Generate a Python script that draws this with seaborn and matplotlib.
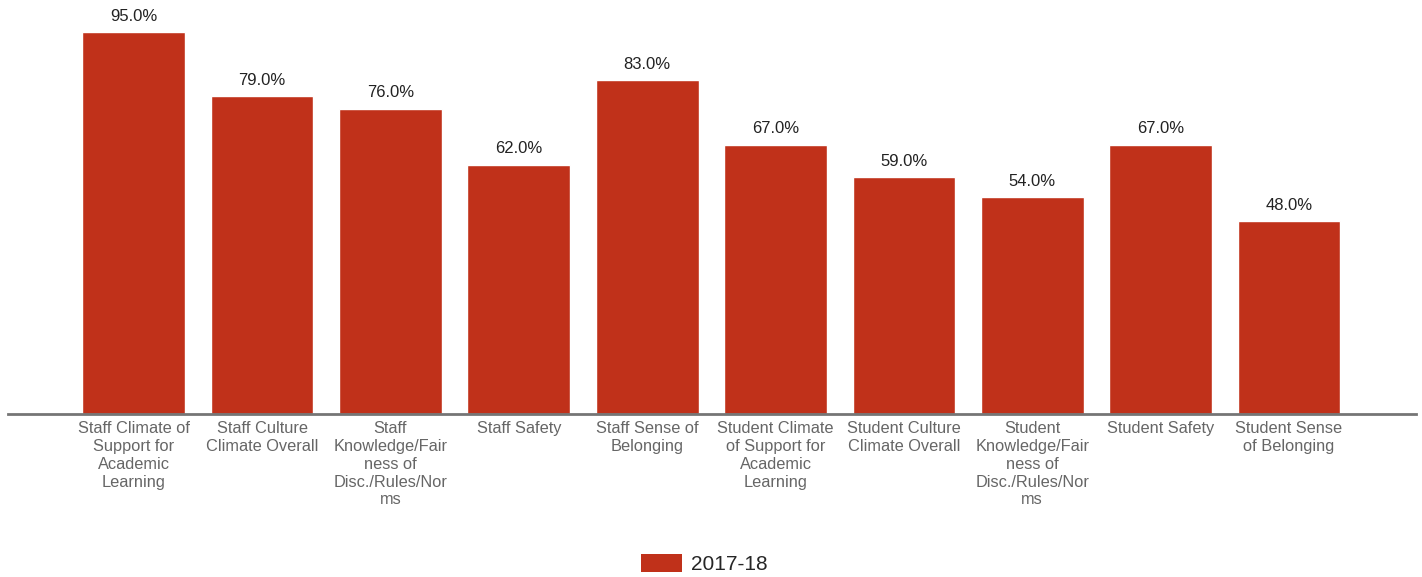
import pandas as pd
import numpy as np
import matplotlib
matplotlib.use("Agg")
import matplotlib.pyplot as plt
import seaborn as sns
from matplotlib.patches import Patch

categories = [
    "Staff Climate of\nSupport for\nAcademic\nLearning",
    "Staff Culture\nClimate Overall",
    "Staff\nKnowledge/Fair\nness of\nDisc./Rules/Nor\nms",
    "Staff Safety",
    "Staff Sense of\nBelonging",
    "Student Climate\nof Support for\nAcademic\nLearning",
    "Student Culture\nClimate Overall",
    "Student\nKnowledge/Fair\nness of\nDisc./Rules/Nor\nms",
    "Student Safety",
    "Student Sense\nof Belonging",
]
values = [95.0, 79.0, 76.0, 62.0, 83.0, 67.0, 59.0, 54.0, 67.0, 48.0]
series_name = "2017-18"

df = pd.DataFrame({"category": categories, "value": values})

sns.set_style("white")
plt.rcParams["font.family"] = ["Liberation Sans", "DejaVu Sans"]

bar_color = "#C0311A"

fig = plt.figure(figsize=(14.22, 5.77), dpi=100)
ax = fig.add_axes([8 / 1422, (577 - 414) / 577, (1416 - 8) / 1422, 414 / 577])

sns.barplot(data=df, x="category", y="value", color=bar_color, width=0.8,
            saturation=1, ax=ax)

ax.bar_label(ax.containers[0], fmt="%.1f%%", padding=6, fontsize=12, color="#222222")

ax.set_xlim(-0.98, 9.99)
ax.set_ylim(0, 103)
ax.set_xlabel("")
ax.set_ylabel("")
ax.set_yticks([])
ax.tick_params(axis="x", length=0, pad=5, labelsize=11.8, labelcolor="#666666")
for lbl in ax.get_xticklabels():
    lbl.set_verticalalignment("top")
    lbl.set_linespacing(1.24)

for side in ["top", "left", "right"]:
    ax.spines[side].set_visible(False)
ax.spines["bottom"].set_color("#757575")
ax.spines["bottom"].set_linewidth(2)

handles = [Patch(facecolor=bar_color, edgecolor="none", label=series_name)]
fig.legend(handles=handles, loc="center", bbox_to_anchor=(704 / 1422, 1 - 564 / 577),
           frameon=False, fontsize=15, handlelength=2.0, handleheight=1.0,
           handletextpad=0.4)

fig.savefig("out.png", dpi=100)
